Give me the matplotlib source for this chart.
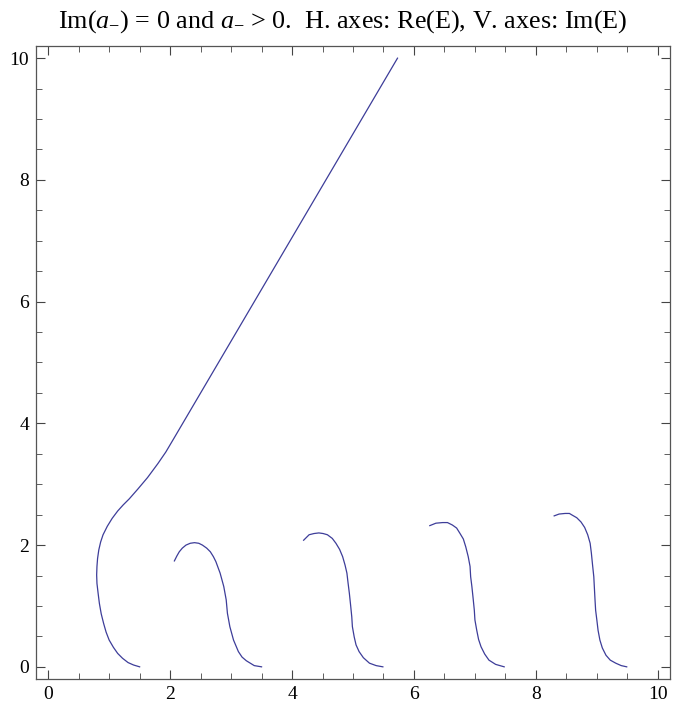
import matplotlib
matplotlib.use('Agg')
import matplotlib.pyplot as plt
from matplotlib.ticker import MultipleLocator

plt.rcParams['font.family'] = ['Liberation Serif', 'DejaVu Serif']
plt.rcParams['mathtext.fontset'] = 'custom'
plt.rcParams['mathtext.rm'] = 'Liberation Serif'
plt.rcParams['mathtext.it'] = 'Liberation Serif:italic'

# branch 1: loops back and then runs off as a straight line
b1_x = [1.50, 1.40, 1.31, 1.22, 1.14, 1.07, 1.00, 0.95, 0.91, 0.87, 0.84, 0.82,
        0.80, 0.795, 0.80, 0.81, 0.83, 0.86, 0.90, 0.97, 1.05, 1.14, 1.23, 1.33,
        1.47, 1.63, 1.80, 1.93, 2.06, 5.73]
b1_y = [0.00, 0.03, 0.07, 0.14, 0.22, 0.32, 0.44, 0.57, 0.71, 0.87, 1.04, 1.20,
        1.37, 1.51, 1.65, 1.78, 1.92, 2.05, 2.17, 2.31, 2.44, 2.56, 2.66, 2.76,
        2.92, 3.11, 3.34, 3.53, 3.75, 10.00]

b2_x = [2.07, 2.11, 2.15, 2.20, 2.26, 2.33, 2.40, 2.47, 2.53, 2.60, 2.66, 2.71,
        2.75, 2.82, 2.88, 2.92, 2.94, 2.98, 3.04, 3.12, 3.18, 3.25, 3.38, 3.50]
b2_y = [1.74, 1.82, 1.89, 1.95, 2.00, 2.03, 2.04, 2.03, 2.00, 1.95, 1.89, 1.81,
        1.73, 1.54, 1.32, 1.10, 0.88, 0.66, 0.44, 0.25, 0.16, 0.10, 0.02, 0.00]

b3_x = [4.19, 4.28, 4.36, 4.44, 4.51, 4.58, 4.66, 4.72, 4.78, 4.83, 4.87, 4.90,
        4.92, 4.94, 4.96, 4.98, 4.99, 5.02, 5.05, 5.10, 5.17, 5.27, 5.38, 5.49]
b3_y = [2.08, 2.17, 2.19, 2.20, 2.19, 2.17, 2.11, 2.03, 1.93, 1.81, 1.67, 1.54,
        1.37, 1.21, 1.02, 0.82, 0.66, 0.49, 0.36, 0.25, 0.15, 0.06, 0.02, 0.00]

b4_x = [6.26, 6.36, 6.47, 6.55, 6.63, 6.70, 6.75, 6.81, 6.85, 6.89, 6.92, 6.93,
        6.95, 6.97, 6.99, 7.00, 7.03, 7.06, 7.10, 7.16, 7.23, 7.34, 7.48]
b4_y = [2.32, 2.36, 2.37, 2.37, 2.33, 2.28, 2.20, 2.10, 1.97, 1.81, 1.65, 1.48,
        1.32, 1.13, 0.93, 0.77, 0.60, 0.45, 0.33, 0.21, 0.11, 0.04, 0.00]

b5_x = [8.30, 8.38, 8.48, 8.55, 8.60, 8.67, 8.74, 8.80, 8.85, 8.89, 8.91, 8.93,
        8.95, 8.96, 8.97, 8.98, 9.00, 9.02, 9.05, 9.09, 9.15, 9.22, 9.31, 9.40, 9.49]
b5_y = [2.48, 2.51, 2.52, 2.52, 2.49, 2.45, 2.38, 2.29, 2.17, 2.03, 1.87, 1.67,
        1.48, 1.29, 1.10, 0.93, 0.77, 0.60, 0.44, 0.31, 0.19, 0.11, 0.06, 0.02, 0.00]

branches = [(b1_x, b1_y), (b2_x, b2_y), (b3_x, b3_y), (b4_x, b4_y), (b5_x, b5_y)]
title = r"Im($a_{-}$) = 0 and $a_{-}$ > 0.  H. axes: Re(E), V. axes: Im(E)"

fig = plt.figure(figsize=(6.86, 7.08), dpi=100)
ax = fig.add_axes([36/686, 29/708, 634/686, 633/708])

for bx, by in branches:
    ax.plot(bx, by, color='#3d3d99', lw=0.9, solid_joinstyle='round')

ax.set_xlim(-0.2, 10.2)
ax.set_ylim(-0.2, 10.2)
ax.xaxis.set_major_locator(MultipleLocator(2))
ax.xaxis.set_minor_locator(MultipleLocator(0.5))
ax.yaxis.set_major_locator(MultipleLocator(2))
ax.yaxis.set_minor_locator(MultipleLocator(0.5))
ax.tick_params(which='both', direction='in', top=True, right=True,
               labelsize=14, color='#444444')
ax.tick_params(which='major', length=6.5, width=0.8, pad=5)
ax.tick_params(which='minor', length=4, width=0.6)
for s in ax.spines.values():
    s.set_color('#555555')
    s.set_linewidth(0.9)

fig.text(0.5, 1 - 22/708, title, fontsize=18.8, ha='center', va='center')

fig.savefig('out.png', dpi=100)
